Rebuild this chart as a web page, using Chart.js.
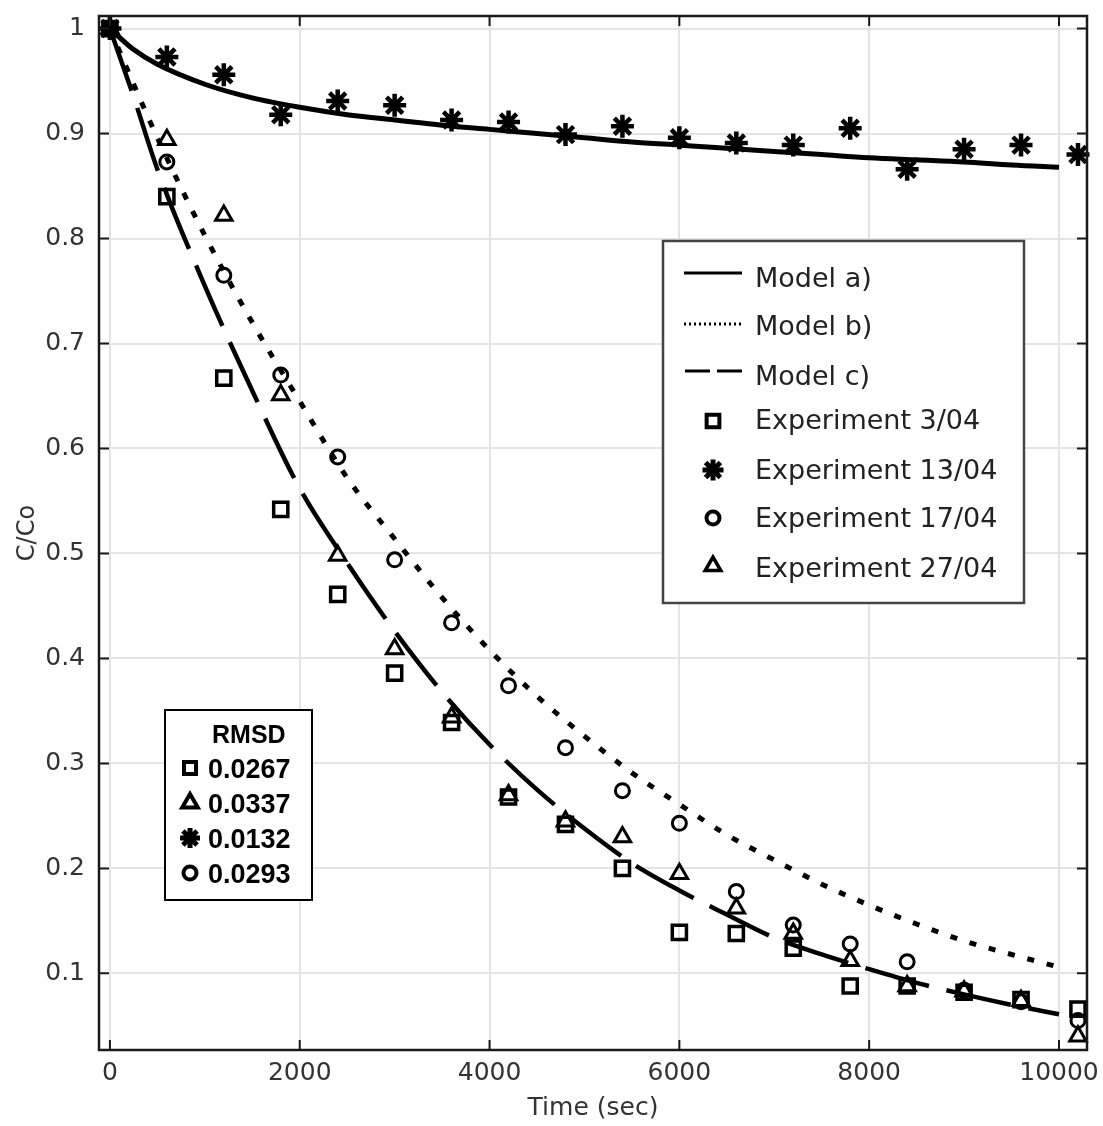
<!DOCTYPE html>
<html>
<head>
<meta charset="utf-8">
<title>C/Co vs time</title>
<script src="https://cdn.jsdelivr.net/npm/chart.js@4.4.1/dist/chart.umd.min.js"></script>
<style>
  body { margin: 0; background: #fff; }
  #wrap { width: 1103px; height: 1126px; }
</style>
</head>
<body>
<div id="wrap"><canvas id="decayChart" width="1103" height="1126"></canvas></div>
<script>
// experiment sampling times (sec)
var expTime = [0, 600, 1200, 1800, 2400, 3000, 3600, 4200, 4800, 5400, 6000, 6600, 7200, 7800, 8400, 9000, 9600, 10200];

var exp0304 = [1.0, 0.840, 0.667, 0.542, 0.461, 0.386, 0.339, 0.268, 0.242, 0.200, 0.139, 0.138, 0.124, 0.088, 0.088, 0.082, 0.075, 0.066];
var exp1304 = [1.0, 0.973, 0.956, 0.918, 0.931, 0.927, 0.913, 0.911, 0.899, 0.907, 0.896, 0.891, 0.889, 0.905, 0.866, 0.885, 0.889, 0.880];
var exp1704 = [1.0, 0.873, 0.765, 0.670, 0.592, 0.494, 0.434, 0.374, 0.315, 0.274, 0.243, 0.178, 0.146, 0.128, 0.111, 0.084, 0.073, 0.055];
var exp2704 = [1.0, 0.894, 0.822, 0.651, 0.498, 0.409, 0.344, 0.270, 0.245, 0.230, 0.195, 0.162, 0.138, 0.112, 0.088, 0.083, 0.074, 0.040];

// model curves
var modelTime = [0, 250, 500, 1000, 1500, 2000, 2500, 3000, 3500, 4000, 4500, 5000, 5500, 6000, 6500, 7000, 7500, 8000, 8500, 9000, 9500, 10000];
var modelA = [1.0, 0.980, 0.966, 0.947, 0.934, 0.925, 0.918, 0.913, 0.908, 0.904, 0.900, 0.896, 0.892, 0.889, 0.886, 0.883, 0.880, 0.877, 0.875, 0.873, 0.870, 0.868];
var modelB = [1.0, 0.947, 0.896, 0.803, 0.720, 0.645, 0.572, 0.514, 0.458, 0.408, 0.364, 0.326, 0.291, 0.261, 0.232, 0.208, 0.185, 0.165, 0.147, 0.131, 0.118, 0.106];
var modelC = [1.0, 0.935, 0.866, 0.755, 0.655, 0.562, 0.491, 0.426, 0.368, 0.318, 0.275, 0.238, 0.205, 0.179, 0.156, 0.134, 0.118, 0.104, 0.091, 0.080, 0.070, 0.061];

var rmsdLabels = ['0.0267', '0.0337', '0.0132', '0.0293'];

var xTicks = [0, 2000, 4000, 6000, 8000, 10000];
var yTicks = [0.1, 0.2, 0.3, 0.4, 0.5, 0.6, 0.7, 0.8, 0.9, 1];

function pts(xs, ys) {
  return ys.map(function (v, i) { return { x: xs[i], y: v }; });
}

function marker(ctx, style, x, y, r, lw) {
  ctx.save();
  ctx.strokeStyle = '#000';
  ctx.fillStyle = 'rgba(0,0,0,0)';
  ctx.lineWidth = lw;
  Chart.helpers.drawPoint(ctx, { pointStyle: style, radius: r, rotation: 0, borderWidth: lw }, x, y);
  ctx.restore();
}

// no extra padding around the plot for the end labels
function noPad(s) {
  s.paddingTop = 0; s.paddingBottom = 0; s.paddingLeft = 0; s.paddingRight = 0;
}

// frame, inward ticks and the two boxes
var extrasPlugin = {
  id: 'extras',
  afterDraw: function (chart) {
    var ctx = chart.ctx, a = chart.chartArea;
    var xs = chart.scales.x, ys = chart.scales.y;
    ctx.save();
    ctx.strokeStyle = '#1a1a1a';
    ctx.lineWidth = 2.5;
    ctx.strokeRect(a.left, a.top, a.right - a.left, a.bottom - a.top);
    ctx.lineWidth = 2;
    ctx.beginPath();
    xTicks.forEach(function (v) {
      var px = xs.getPixelForValue(v);
      ctx.moveTo(px, a.top); ctx.lineTo(px, a.top + 10);
      ctx.moveTo(px, a.bottom); ctx.lineTo(px, a.bottom - 10);
    });
    yTicks.forEach(function (v) {
      var py = ys.getPixelForValue(v);
      ctx.moveTo(a.left, py); ctx.lineTo(a.left + 10, py);
      ctx.moveTo(a.right, py); ctx.lineTo(a.right - 10, py);
    });
    ctx.stroke();

    // main legend
    ctx.fillStyle = '#fff';
    ctx.fillRect(663, 241, 361, 362);
    ctx.strokeStyle = '#444';
    ctx.lineWidth = 2.5;
    ctx.strokeRect(663, 241, 361, 362);

    ctx.strokeStyle = '#000';
    ctx.lineWidth = 3;
    ctx.beginPath(); ctx.moveTo(684, 273); ctx.lineTo(742, 273); ctx.stroke();
    ctx.setLineDash([2, 3]);
    ctx.beginPath(); ctx.moveTo(684, 324); ctx.lineTo(742, 324); ctx.stroke();
    ctx.setLineDash([25, 7]);
    ctx.beginPath(); ctx.moveTo(685, 371); ctx.lineTo(742, 371); ctx.stroke();
    ctx.setLineDash([]);

    marker(ctx, 'rect', 713, 421, 9, 4);
    marker(ctx, 'star', 713, 470, 10.5, 5);
    marker(ctx, 'circle', 713, 518, 6.5, 4);
    marker(ctx, 'triangle', 713, 566, 9, 3.5);

    var names = ['Model a)', 'Model b)', 'Model c)', 'Experiment 3/04', 'Experiment 13/04', 'Experiment 17/04', 'Experiment 27/04'];
    var base = [287, 335, 385, 429, 479, 527, 577];
    ctx.fillStyle = '#222';
    ctx.font = '27px "DejaVu Sans"';
    ctx.textBaseline = 'alphabetic';
    names.forEach(function (t, i) { ctx.fillText(t, 755, base[i]); });

    // RMSD box
    ctx.fillStyle = '#fff';
    ctx.fillRect(165, 710, 147, 190);
    ctx.strokeStyle = '#000';
    ctx.lineWidth = 2;
    ctx.strokeRect(165, 710, 147, 190);
    ctx.fillStyle = '#000';
    ctx.font = 'bold 25px "Liberation Sans"';
    ctx.fillText('RMSD', 212, 743);
    ctx.font = 'bold 27px "Liberation Sans"';
    var rowY = [768, 803, 838, 873];
    var rowStyle = ['rect', 'triangle', 'star', 'circle'];
    var rowR = [8.5, 9, 10, 6.5];
    rmsdLabels.forEach(function (t, i) {
      marker(ctx, rowStyle[i], 190, rowY[i], rowR[i], i === 2 ? 5 : 4);
      ctx.fillText(t, 208, rowY[i] + 10);
    });
    ctx.restore();
  }
};

var ctx = document.getElementById('decayChart').getContext('2d');

var chart = new Chart(ctx, {
  type: 'scatter',
  data: {
    datasets: [
      {
        type: 'line', label: 'Model a)', data: pts(modelTime, modelA),
        borderColor: '#000', borderWidth: 5, pointRadius: 0,
        cubicInterpolationMode: 'monotone', fill: false
      },
      {
        type: 'line', label: 'Model b)', data: pts(modelTime, modelB),
        borderColor: '#000', borderWidth: 5, borderDash: [7, 13], pointRadius: 0,
        cubicInterpolationMode: 'monotone', fill: false
      },
      {
        type: 'line', label: 'Model c)', data: pts(modelTime, modelC),
        borderColor: '#000', borderWidth: 4.5, borderDash: [66, 18], pointRadius: 0,
        cubicInterpolationMode: 'monotone', fill: false
      },
      {
        label: 'Experiment 3/04', data: pts(expTime, exp0304),
        pointStyle: 'rect', pointRadius: 10, pointBorderWidth: 3.5,
        pointBorderColor: '#000', pointBackgroundColor: 'rgba(0,0,0,0)', clip: false
      },
      {
        label: 'Experiment 13/04', data: pts(expTime, exp1304),
        pointStyle: 'star', pointRadius: 11.5, pointBorderWidth: 4.5,
        pointBorderColor: '#000', pointBackgroundColor: 'rgba(0,0,0,0)', clip: false
      },
      {
        label: 'Experiment 17/04', data: pts(expTime, exp1704),
        pointStyle: 'circle', pointRadius: 7, pointBorderWidth: 3,
        pointBorderColor: '#000', pointBackgroundColor: 'rgba(0,0,0,0)', clip: false
      },
      {
        label: 'Experiment 27/04', data: pts(expTime, exp2704),
        pointStyle: 'triangle', pointRadius: 9.5, pointBorderWidth: 3,
        pointBorderColor: '#000', pointBackgroundColor: 'rgba(0,0,0,0)', clip: false
      }
    ]
  },
  options: {
    responsive: false,
    devicePixelRatio: 1,
    animation: false,
    layout: { padding: { top: 13, right: 15, left: 0, bottom: 0 } },
    plugins: {
      legend: { display: false },
      tooltip: { enabled: false }
    },
    scales: {
      x: {
        type: 'linear', min: -115, max: 10295,
        afterBuildTicks: function (s) { s.ticks = xTicks.map(function (v) { return { value: v }; }); },
        afterFit: function (s) { s.height = 76; noPad(s); },
        ticks: {
          color: '#333', font: { family: 'DejaVu Sans', size: 25 }, padding: 8, maxRotation: 0,
          callback: function (v) { return String(v); }
        },
        grid: { color: '#e4e4e4', lineWidth: 2, drawTicks: false },
        border: { display: false },
        title: { display: true, text: 'Time (sec)', color: '#333', font: { family: 'DejaVu Sans', size: 25 }, padding: { top: 0, bottom: 3 } }
      },
      y: {
        type: 'linear', min: 0.027, max: 1.012,
        afterBuildTicks: function (s) { s.ticks = yTicks.map(function (v) { return { value: v }; }); },
        afterFit: function (s) { s.width = 99; noPad(s); },
        ticks: {
          color: '#333', font: { family: 'DejaVu Sans', size: 25 }, padding: 14,
          callback: function (v) { return String(v); }
        },
        grid: { color: '#e4e4e4', lineWidth: 2, drawTicks: false },
        border: { display: false },
        title: { display: true, text: 'C/Co', color: '#333', font: { family: 'DejaVu Sans', size: 24 }, padding: { top: 13, bottom: 0 } }
      }
    }
  },
  plugins: [extrasPlugin]
});
</script>
</body>
</html>
